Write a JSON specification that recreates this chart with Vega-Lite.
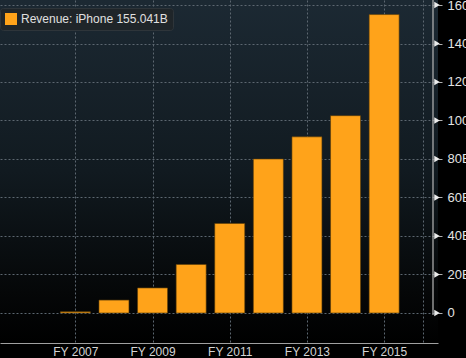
{
  "$schema": "https://vega.github.io/schema/vega-lite/v6.json",
  "width": 438,
  "height": 343,
  "autosize": {"type": "none"},
  "padding": {"left": 0, "top": 0, "right": 28, "bottom": 15},
  "background": "#000000",
  "config": {
    "view": {
      "stroke": null,
      "fill": {"gradient": "linear", "x1": 0, "y1": 0, "x2": 0, "y2": 1,
        "stops": [{"offset": 0, "color": "#1c2933"}, {"offset": 0.5, "color": "#111a20"}, {"offset": 0.85, "color": "#050708"}, {"offset": 1, "color": "#000000"}]}
    },
    "font": "Liberation Sans"
  },
  "datasets": {
    "rev": [
      {"year": 2007, "revenue": 0.63, "series": "Revenue: iPhone 155.041B"},
      {"year": 2008, "revenue": 6.7, "series": "Revenue: iPhone 155.041B"},
      {"year": 2009, "revenue": 13.0, "series": "Revenue: iPhone 155.041B"},
      {"year": 2010, "revenue": 25.2, "series": "Revenue: iPhone 155.041B"},
      {"year": 2011, "revenue": 46.5, "series": "Revenue: iPhone 155.041B"},
      {"year": 2012, "revenue": 80.0, "series": "Revenue: iPhone 155.041B"},
      {"year": 2013, "revenue": 91.5, "series": "Revenue: iPhone 155.041B"},
      {"year": 2014, "revenue": 102.5, "series": "Revenue: iPhone 155.041B"},
      {"year": 2015, "revenue": 155.041, "series": "Revenue: iPhone 155.041B"}
    ],
    "ticks": [{"v": 0}, {"v": 20}, {"v": 40}, {"v": 60}, {"v": 80}, {"v": 100}, {"v": 120}, {"v": 140}, {"v": 160}]
  },
  "layer": [
    {
      "data": {"name": "rev"},
      "mark": {"type": "bar", "size": 30, "stroke": "#5a3c08", "strokeWidth": 0.6},
      "encoding": {
        "x": {
          "field": "year", "type": "quantitative",
          "scale": {"domain": [2005.177, 2016.266], "nice": false, "zero": false},
          "axis": {
            "title": null,
            "values": [2007, 2009, 2011, 2013, 2015, 2016],
            "labelExpr": "datum.value == 2016 ? '' : 'FY ' + datum.value",
            "labelFlush": false,
            "labelOverlap": false,
            "labelFontSize": 12,
            "labelColor": "#d4d4d4",
            "labelPadding": 3,
            "ticks": false,
            "domain": true,
            "domainColor": "#a0a0a0",
            "domainWidth": 1,
            "grid": true,
            "gridColor": "#5c6770",
            "gridDash": [2, 2],
            "gridWidth": 1
          }
        },
        "y": {
          "field": "revenue", "type": "quantitative",
          "scale": {"domain": [-15.6, 162.6], "nice": false, "zero": false},
          "axis": {
            "title": null,
            "orient": "right",
            "values": [0, 10, 20, 30, 40, 50, 60, 70, 80, 90, 100, 110, 120, 130, 140, 150, 160],
            "labelExpr": "datum.value % 20 == 0 ? (datum.value == 0 ? '0' : datum.value + 'B') : ''",
            "labelFlush": false,
            "labelOverlap": false,
            "labelFontSize": 13,
            "labelColor": "#e4e4e4",
            "labelPadding": 5,
            "domain": false,
            "tickSize": 4,
            "tickColor": "#b0b0b0",
            "grid": true,
            "gridColor": "#5c6770",
            "gridDash": [2, 2],
            "gridWidth": 1,
            "gridOpacity": {"condition": {"test": "datum.value % 20 == 0", "value": 1}, "value": 0}
          }
        },
        "color": {
          "field": "series", "type": "nominal",
          "scale": {"range": ["#FFA31A"]},
          "legend": {
            "title": null,
            "orient": "none",
            "legendX": 0,
            "legendY": 8,
            "fillColor": "#1f2529",
            "strokeColor": "#2e353a",
            "cornerRadius": 3,
            "padding": 5,
            "symbolType": "square",
            "symbolSize": 144,
            "symbolStrokeWidth": 0,
            "labelFontSize": 12,
            "labelColor": "#e0e0e0",
            "labelOffset": 4
          }
        }
      }
    },
    {
      "data": {"name": "ticks"},
      "mark": {"type": "point", "shape": "triangle-right", "filled": true, "size": 40, "color": "#ececec", "opacity": 1},
      "encoding": {
        "x": {"datum": 2016.37, "type": "quantitative"},
        "y": {"field": "v", "type": "quantitative"}
      }
    },
    {
      "data": {"values": [{}]},
      "mark": {"type": "rule", "color": "#b8b8b8", "strokeWidth": 1.2},
      "encoding": {
        "x": {"datum": 2016.266, "type": "quantitative"},
        "y": {"datum": -1, "type": "quantitative"},
        "y2": {"datum": 162.6}
      }
    }
  ]
}
